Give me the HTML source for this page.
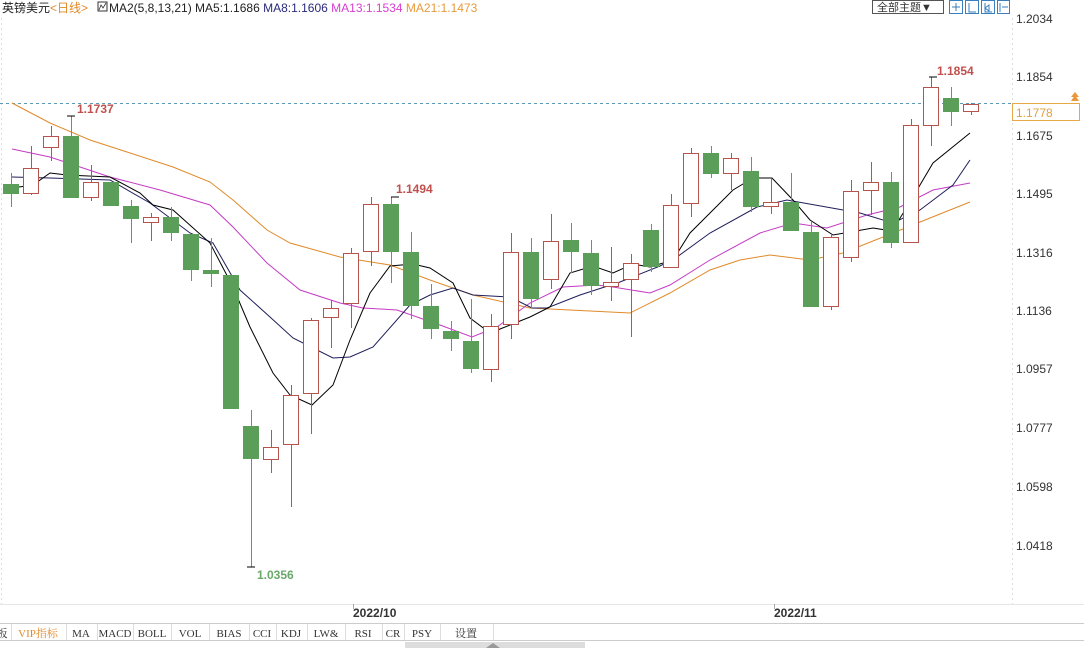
<!DOCTYPE html>
<html><head><meta charset="utf-8"><style>
html,body{margin:0;padding:0;background:#fff;}
body{width:1084px;height:648px;overflow:hidden;position:relative;font-family:"Liberation Sans","Noto Sans CJK SC",sans-serif;}
svg{position:absolute;left:0;top:0;}
</style></head><body>
<svg width="1084" height="648" viewBox="0 0 1084 648" xmlns="http://www.w3.org/2000/svg" font-family="Liberation Sans, Noto Sans CJK SC, sans-serif">
<text x="2" y="12" font-size="12" fill="#222">英镑美元<tspan fill="#e08a2a">&lt;日线&gt;</tspan></text>
<rect x="98" y="2" width="9" height="9" fill="none" stroke="#333" stroke-width="1"/>
<polyline points="99,10 101,5 103,8 106,3" fill="none" stroke="#333" stroke-width="0.8"/>
<text x="109" y="12" font-size="12" fill="#222">MA2(5,8,13,21) MA5:1.1686 <tspan fill="#2a2a7a">MA8:1.1606</tspan> <tspan fill="#d93fd0">MA13:1.1534</tspan> <tspan fill="#e89a3a">MA21:1.1473</tspan></text>
<rect x="872.5" y="0.5" width="71" height="13" fill="#fff" stroke="#555"/>
<text x="877" y="11" font-size="11" fill="#333">全部主题▼</text>
<g fill="none" stroke="#3a7fc0">
<rect x="949.5" y="0.5" width="13" height="13"/><rect x="965.5" y="0.5" width="13" height="13"/><rect x="981.5" y="0.5" width="13" height="13"/><rect x="997.5" y="0.5" width="12" height="13"/>
<path d="M956 3v8M952 7h8M969 3v9h7M985 3v9h7M985 8l4-3v6zM1000 3v9M1002 7h6"/>
</g>
<line x1="1012.5" y1="18" x2="1012.5" y2="604" stroke="#ddd" stroke-dasharray="2,3"/>
<line x1="1.5" y1="18" x2="1.5" y2="604" stroke="#ddd" stroke-dasharray="2,3"/>
<g font-size="12" fill="#333">
<text x="1016" y="23">1.2034</text><text x="1016" y="81">1.1854</text><text x="1016" y="140">1.1675</text><text x="1016" y="198">1.1495</text><text x="1016" y="257">1.1316</text><text x="1016" y="315">1.1136</text><text x="1016" y="373">1.0957</text><text x="1016" y="432">1.0777</text><text x="1016" y="491">1.0598</text><text x="1016" y="550">1.0418</text>
</g>
<line x1="0" y1="103.5" x2="1012" y2="103.5" stroke="#5a9ab8" stroke-dasharray="3,3"/>
<rect x="1012.5" y="103.5" width="67" height="17" fill="#fff" stroke="#e8a84a"/>
<text x="1016" y="117" font-size="12" fill="#e0a040">1.1778</text>
<path d="M1071 101l4-6 4 6zM1071 97l4-5 4 5" fill="#e89a3a"/>
<polyline fill="none" stroke="#e08a2a" stroke-width="1" points="12,103 50,123 90,140 127,152 173,167 210,182 233,200 267,230 290,243 340,257 390,265 430,280 473,295 530,308 570,310 630,313 670,293 710,270 740,260 770,255 810,260 843,253 893,233 930,218 970,202"/>
<polyline fill="none" stroke="#c43cc4" stroke-width="1" points="12,149 50,157 110,177 160,190 210,205 233,227 267,263 300,290 340,303 363,308 397,310 440,325 472,337 497,327 530,303 563,287 597,285 613,287 650,293 670,285 710,260 760,233 793,223 827,228 867,215 900,207 933,190 970,183"/>
<polyline fill="none" stroke="#1e1e5a" stroke-width="1" points="12,177 50,178 110,180 150,203 190,233 213,243 240,290 270,317 293,338 333,358 350,357 373,347 410,305 430,295 453,288 473,295 510,297 532,308 547,308 580,295 620,282 660,266 677,257 710,233 757,207 787,200 860,213 893,223 920,210 953,185 970,160"/>
<polyline fill="none" stroke="#000" stroke-width="1" points="12,188 33,185 50,173 67,175 110,177 140,193 153,205 173,210 210,243 233,287 250,327 273,373 290,395 312,405 333,385 350,340 370,293 390,266 413,264 430,268 453,283 470,318 490,333 530,317 550,307 570,273 593,266 613,273 633,264 650,267 673,260 690,233 733,190 753,178 772,178 793,200 810,220 833,235 873,228 892,231 907,207 933,163 970,133"/>
<g id="c" stroke-width="1"></g>
<g font-size="12" font-weight="bold">
<text x="77" y="113" fill="#c0504d">1.1737</text>
<text x="396" y="193" fill="#c0504d">1.1494</text>
<text x="937" y="75" fill="#c0504d">1.1854</text>
<text x="257" y="579" fill="#6aa86a">1.0356</text>
</g>
<g stroke="#000" stroke-width="1"><path d="M67 116h8M391 197h8M929 77h8M247 567h8"/></g>
<line x1="0" y1="604.5" x2="1084" y2="604.5" stroke="#e6e6e6"/>
<line x1="0" y1="623.5" x2="1084" y2="623.5" stroke="#ccc"/>
<line x1="0" y1="640.5" x2="1084" y2="640.5" stroke="#ccc"/>
<line x1="353.5" y1="604" x2="353.5" y2="609" stroke="#aaa"/>
<line x1="774.5" y1="604" x2="774.5" y2="609" stroke="#aaa"/>
<g font-size="12" font-weight="bold" fill="#333"><text x="353" y="617">2022/10</text><text x="774" y="617">2022/11</text></g>
<g font-family="Liberation Serif, Noto Serif CJK SC, serif" font-size="11" fill="#333" text-anchor="middle">
<text x="2" y="637">板</text>
<text x="38" y="637" fill="#e08a2a">VIP指标</text>
<text x="81" y="637">MA</text><text x="115" y="637">MACD</text><text x="152" y="637">BOLL</text><text x="190" y="637">VOL</text><text x="229" y="637">BIAS</text><text x="262" y="637">CCI</text><text x="291" y="637">KDJ</text><text x="326" y="637">LW&amp;</text><text x="363" y="637">RSI</text><text x="393" y="637">CR</text><text x="422" y="637">PSY</text><text x="466" y="637">设置</text>
</g>
<g stroke="#ddd"><path d="M11.5 624v16M66.5 624v16M97.5 624v16M133.5 624v16M171.5 624v16M209.5 624v16M249.5 624v16M276.5 624v16M307.5 624v16M345.5 624v16M382.5 624v16M404.5 624v16M440.5 624v16M493.5 624v16"/></g>
<rect x="405" y="642" width="180" height="6" fill="#ddd"/>
<path d="M486 648l7-5 7 5z" fill="#999"/>
</svg>
<script>
var d=[['g',184,194,173,207],['r',168,194,146,195],['r',136,148,126,161],['g',136,198,116,198],['r',182,198,165,201],['g',182,206,182,206],['g',206,219,200,243],['r',217,223,213,241],['g',217,233,207,241],['g',234,270,234,281],['g',270,274,238,287],['g',275,409,275,409],['g',426,459,410,567],['r',447,460,430,473],['r',395,445,385,507],['r',320,394,318,434],['r',308,318,300,348],['r',253,304,248,328],['r',204,252,197,266],['g',204,252,197,283],['g',252,306,232,319],['g',306,329,284,339],['g',331,339,321,351],['g',341,369,299,373],['r',326,370,314,382],['r',252,325,233,339],['g',252,299,238,308],['r',241,280,214,289],['g',240,252,223,273],['g',253,286,240,295],['r',282,287,247,301],['r',263,280,254,337],['g',230,267,224,272],['r',205,268,194,268],['r',153,204,148,217],['g',153,174,146,178],['r',158,174,153,190],['g',171,207,157,212],['r',202,207,178,214],['g',202,231,173,231],['g',232,307,222,307],['r',237,307,233,310],['r',191,258,180,262],['r',182,191,162,215],['g',182,243,172,248],['r',125,243,119,243],['r',87,126,77,146],['g',98,112,87,126],['r',104,112,103,115]];
var s='';d.forEach(function(c,i){var x=3+20*i,cx=x+8.5;var col=c[0]=='g'?'#5a9e5a':'#b5544d';
s+='<line x1="'+cx+'" y1="'+c[3]+'" x2="'+cx+'" y2="'+c[4]+'" stroke="'+col+'"/>';
if(c[0]=='g')s+='<rect x="'+x+'" y="'+c[1]+'" width="16" height="'+Math.max(1,c[2]-c[1])+'" fill="#5a9e5a"/>';
else s+='<rect x="'+(x+0.5)+'" y="'+(c[1]+0.5)+'" width="15" height="'+Math.max(1,c[2]-c[1]-1)+'" fill="#fff" stroke="#b5544d"/>';});
document.getElementById('c').innerHTML=s;
</script>
</body></html>
